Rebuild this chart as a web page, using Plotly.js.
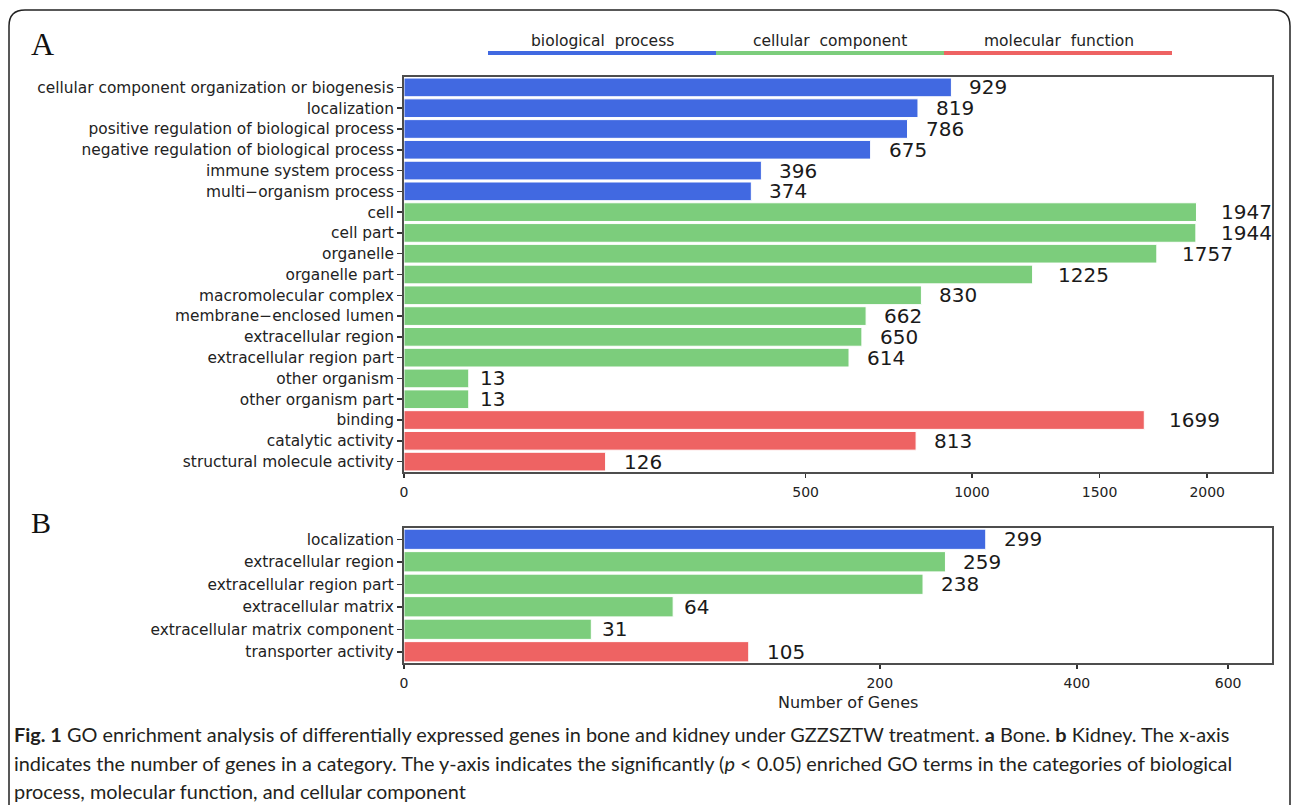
<!DOCTYPE html>
<html>
<head>
<meta charset="utf-8">
<script src="https://cdn.plot.ly/plotly-3.0.1.min.js"></script>
<style>html,body{margin:0;padding:0;background:#fff;}#chart{width:1292px;height:805px;}</style>
</head>
<body>
<div id="chart"></div>
<script>
// ---- Data ----
const categoriesA = [
  "cellular component organization or biogenesis",
  "localization",
  "positive regulation of biological process",
  "negative regulation of biological process",
  "immune system process",
  "multi\u2212organism process",
  "cell",
  "cell part",
  "organelle",
  "organelle part",
  "macromolecular complex",
  "membrane\u2212enclosed lumen",
  "extracellular region",
  "extracellular region part",
  "other organism",
  "other organism part",
  "binding",
  "catalytic activity",
  "structural molecule activity"
];
const valuesA = [929, 819, 786, 675, 396, 374, 1947, 1944, 1757, 1225, 830, 662, 650, 614, 13, 13, 1699, 813, 126];
const groupsA = ["bp","bp","bp","bp","bp","bp","cc","cc","cc","cc","cc","cc","cc","cc","cc","cc","mf","mf","mf"];

const categoriesB = [
  "localization",
  "extracellular region",
  "extracellular region part",
  "extracellular matrix",
  "extracellular matrix component",
  "transporter activity"
];
const valuesB = [299, 259, 238, 64, 31, 105];
const groupsB = ["bp","cc","cc","cc","cc","mf"];

const tickValuesA = [0, 500, 1000, 1500, 2000];
const tickValuesB = [0, 200, 400, 600];

const groupNames = ["biological\u00a0\u00a0process", "cellular\u00a0\u00a0component", "molecular\u00a0\u00a0function"];
const groupKeys = ["bp", "cc", "mf"];

// ---- Styles ----
const colorMap = {bp: "#4169E1", cc: "#7CCD7C", mf: "#EE6363"};
const W = 1292, H = 805;
const px = x => x / W;
const py = y => 1 - y / H;
const FONT = "DejaVu Sans, sans-serif";
const TXT = "#222222";

function barTrace(cats, vals, groups, xa, ya) {
  return {
    type: "bar", orientation: "h",
    x: vals.map(Math.sqrt), y: cats,
    xaxis: xa, yaxis: ya,
    marker: {color: groups.map(g => colorMap[g]), line: {color: "#ffffff", width: 1}},
    hoverinfo: "skip", showlegend: false
  };
}

function valueLabels(cats, vals, xa, ya) {
  return vals.map((v, i) => ({
    x: Math.sqrt(v), y: cats[i], xref: xa, yref: ya,
    text: String(v), showarrow: false,
    xanchor: "left", yanchor: "middle",
    xshift: 7 * String(v).length - 5,
    font: {family: FONT, size: 20, color: "#1a1a1a"}
  }));
}

function xAxis(domain, range, ticks, anchor) {
  return {
    domain: domain, range: range, anchor: anchor,
    tickmode: "array", tickvals: ticks.map(Math.sqrt), ticktext: ticks.map(String),
    ticks: "outside", ticklen: 4, tickwidth: 1.5, tickcolor: "#333",
    showline: true, linecolor: "#4d4d4d", linewidth: 2, mirror: true,
    showgrid: false, zeroline: false, fixedrange: true,
    tickfont: {family: FONT, size: 14, color: TXT}, ticklabelstandoff: 2
  };
}
function yAxis(domain, cats, anchor) {
  return {
    domain: domain, type: "category", anchor: anchor,
    categoryorder: "array", categoryarray: cats,
    range: [cats.length - 0.5, -0.5],
    ticks: "outside", ticklen: 5, tickwidth: 1.5, tickcolor: "#333",
    showline: true, linecolor: "#4d4d4d", linewidth: 2, mirror: true,
    showgrid: false, zeroline: false, fixedrange: true,
    tickfont: {family: FONT, size: 15.4, color: TXT}
  };
}

const data = [
  barTrace(categoriesA, valuesA, groupsA, "x", "y"),
  barTrace(categoriesB, valuesB, groupsB, "x2", "y2")
];

const annotations = [].concat(
  valueLabels(categoriesA, valuesA, "x", "y"),
  valueLabels(categoriesB, valuesB, "x2", "y2")
);

// legend header
const legendCenters = [602, 830, 1059];
const legendSegs = [[488, 716], [716, 944], [944, 1172]];
const shapes = [];
groupKeys.forEach((k, i) => {
  annotations.push({
    x: px(legendCenters[i]), y: py(41), xref: "paper", yref: "paper",
    text: groupNames[i], showarrow: false, xanchor: "center", yanchor: "middle",
    font: {family: FONT, size: 15.5, color: TXT}
  });
  shapes.push({
    type: "line", xref: "paper", yref: "paper",
    x0: px(legendSegs[i][0]), x1: px(legendSegs[i][1]), y0: py(53), y1: py(53),
    line: {color: colorMap[k], width: 4}
  });
});

// panel letters
annotations.push({x: px(42), y: py(44), xref: "paper", yref: "paper", text: "A", showarrow: false,
  xanchor: "center", yanchor: "middle", font: {family: "Liberation Serif, serif", size: 32, color: "#111"}});
annotations.push({x: px(41), y: py(522), xref: "paper", yref: "paper", text: "B", showarrow: false,
  xanchor: "center", yanchor: "middle", font: {family: "Liberation Serif, serif", size: 30, color: "#111"}});

// x axis title
annotations.push({x: px(848), y: py(702), xref: "paper", yref: "paper", text: "Number of Genes", showarrow: false,
  xanchor: "center", yanchor: "middle", font: {family: FONT, size: 16, color: TXT}});

// caption
const captionLines = [
  "<b>Fig. 1</b> GO enrichment analysis of differentially expressed genes in bone and kidney under GZZSZTW treatment. <b>a</b> Bone. <b>b</b> Kidney. The x-axis",
  "indicates the number of genes in a category. The y-axis indicates the significantly (<i>p</i> &lt; 0.05) enriched GO terms in the categories of biological",
  "process, molecular function, and cellular component"
];
const captionY = [734, 763, 791];
captionLines.forEach((t, i) => {
  annotations.push({x: px(12), y: py(captionY[i]), xref: "paper", yref: "paper", text: t, showarrow: false,
    xanchor: "left", yanchor: "middle", font: {family: "Lato, sans-serif", size: 19.9, color: "#231f20"}});
});

// frame
shapes.push({
  type: "path", xref: "paper", yref: "paper",
  path: `M ${px(9)},${py(806)} L ${px(9)},${py(26)} Q ${px(9)},${py(10)} ${px(25)},${py(10)} L ${px(1274)},${py(10)} Q ${px(1290)},${py(10)} ${px(1290)},${py(26)} L ${px(1290)},${py(806)}`,
  line: {color: "#222", width: 1.5}
});

const layout = {
  width: W, height: H,
  margin: {l: 0, r: 0, t: 0, b: 0},
  paper_bgcolor: "#ffffff", plot_bgcolor: "#ffffff",
  bargap: 0.1,
  xaxis: xAxis([px(404), px(1272)], [0, 48.33], tickValuesA, "y"),
  yaxis: yAxis([py(472), py(77)], categoriesA, "x"),
  xaxis2: xAxis([px(404), px(1272)], [0, 25.80], tickValuesB, "y2"),
  yaxis2: yAxis([py(663), py(528)], categoriesB, "x2"),
  annotations: annotations,
  shapes: shapes,
  showlegend: false
};

Plotly.newPlot("chart", data, layout, {staticPlot: true, displayModeBar: false});
</script>
</body>
</html>
